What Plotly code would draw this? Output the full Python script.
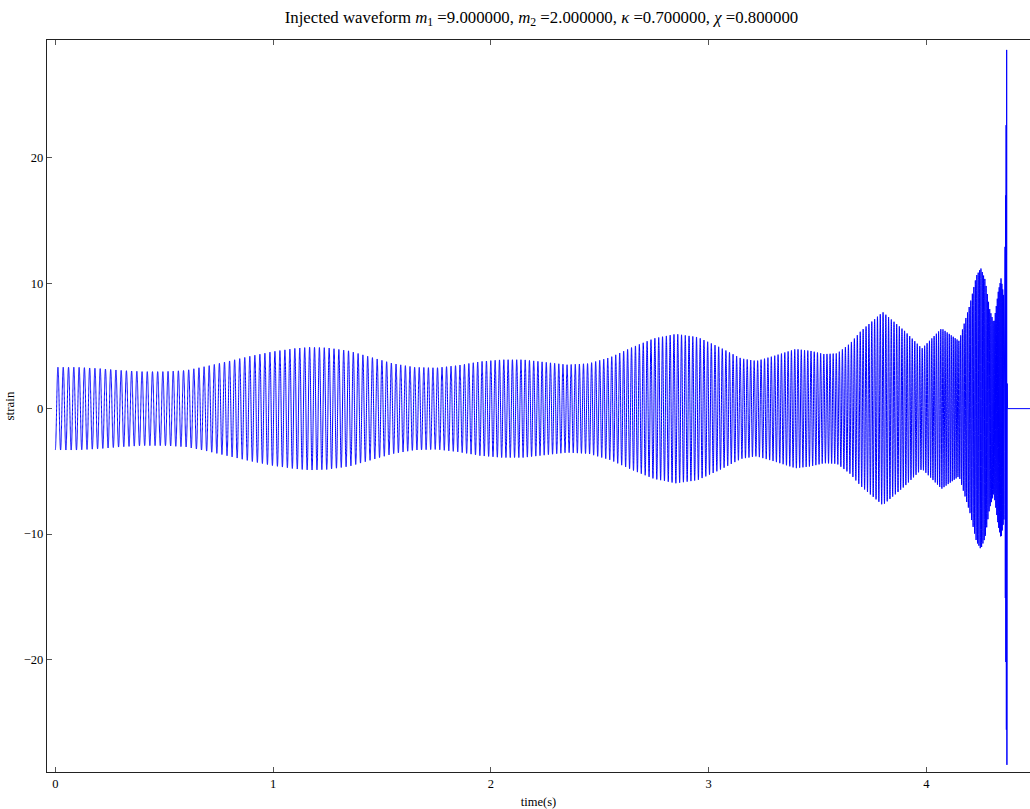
import numpy as np
import plotly.graph_objects as go

# ---- values ----
# envelope of the strain oscillation (amplitude vs time)
env_t = [0.00, 0.10, 0.20, 0.30, 0.40, 0.50, 0.60, 0.70, 0.80, 0.90, 1.00, 1.10, 1.17,
         1.25, 1.35, 1.45, 1.55, 1.65, 1.75, 1.85, 1.95, 2.05, 2.15, 2.25, 2.35, 2.45,
         2.55, 2.65, 2.75, 2.85, 2.95, 3.05, 3.15, 3.22, 3.30, 3.40, 3.47, 3.53, 3.59,
         3.65, 3.70, 3.80, 3.90, 3.98, 4.07, 4.15, 4.20, 4.23, 4.25, 4.27, 4.29, 4.31,
         4.33, 4.343, 4.357]
env_amp = [3.3, 3.3, 3.2, 3.05, 2.95, 2.95, 3.05, 3.4, 3.8, 4.2, 4.55, 4.8, 4.9,
           4.85, 4.6, 4.1, 3.6, 3.3, 3.25, 3.45, 3.75, 3.9, 3.9, 3.7, 3.5, 3.6,
           4.1, 4.9, 5.6, 5.95, 5.7, 4.9, 4.0, 3.8, 4.2, 4.75, 4.6, 4.35, 4.4,
           5.2, 6.2, 7.7, 6.2, 4.8, 6.4, 5.4, 8.3, 10.6, 11.2, 10.3, 8.0, 6.8,
           9.3, 10.4, 8.8]
# oscillation frequency (Hz) vs time
freq_t = [0.00, 0.50, 1.00, 1.50, 2.00, 2.50, 3.00, 3.50, 3.80, 4.00, 4.10, 4.20, 4.30, 4.34, 4.357]
freq_hz = [41.0, 42.0, 43.5, 46.0, 50.0, 54.0, 59.0, 68.0, 78.0, 90.0, 105.0, 135.0, 190.0, 240.0, 280.0]
# final merger extrema (time, strain)
merger_t = [4.3615, 4.3627, 4.3639, 4.3651, 4.3663, 4.3675, 4.3688, 4.3700, 4.3712, 4.3724]
merger_h = [12.9, -15.1, 17.0, -20.2, 22.6, -25.6, 28.6, -28.4, 2.0, 0.0]
# flat (zero) tail after merger
tail_t = [4.3740, 4.60]
tail_h = [0.0, 0.0]

fs = 8192.0
t = np.arange(0.0, env_t[-1], 1.0 / fs)
amp = np.interp(t, env_t, env_amp)
freq = np.interp(t, freq_t, freq_hz)
phase = 2 * np.pi * np.concatenate([[0.0], np.cumsum(freq[:-1]) / fs])
h = -amp * np.cos(phase)

x_all = np.concatenate([t, merger_t, tail_t])
y_all = np.concatenate([h, merger_h, tail_h])

fig = go.Figure()
fig.add_trace(go.Scatter(x=x_all, y=y_all, mode="lines",
                         line=dict(color="#0000ff", width=1, simplify=False),
                         showlegend=False))

serif = "Liberation Serif, Times New Roman, serif"
fig.update_layout(
    width=1030, height=809,
    margin=dict(l=47, r=0, t=40, b=37),
    paper_bgcolor="white", plot_bgcolor="white",
    font=dict(family=serif, size=13, color="black"),
    title=dict(
        text="Injected waveform <i>m</i><sub>1</sub> =9.000000, <i>m</i><sub>2</sub> =2.000000, "
             "<i>κ</i> =0.700000, <i>χ</i> =0.800000",
        x=0.503, xref="paper", xanchor="center",
        y=1 - 17 / 809, yref="container", yanchor="middle",
        font=dict(family=serif, size=16.8, color="black")),
    xaxis=dict(range=[-0.038, 4.476], tickvals=[0, 1, 2, 3, 4], ticks="inside",
               ticklen=5, tickwidth=0.8, tickcolor="#555",
               showline=True, linecolor="#222", linewidth=1.4, mirror="allticks",
               showgrid=False, zeroline=False,
               tickfont=dict(family=serif, size=12.5),
               title=dict(text="time(s)", standoff=8, font=dict(family=serif, size=12.5))),
    yaxis=dict(range=[-28.97, 29.39], tickvals=[-20, -10, 0, 10, 20], ticks="inside",
               ticklen=5, tickwidth=0.8, tickcolor="#555",
               showline=True, linecolor="#222", linewidth=1.4, mirror=False,
               showgrid=False, zeroline=False,
               tickfont=dict(family=serif, size=12.5),
               title=dict(text="strain", standoff=6, font=dict(family=serif, size=13))),
)

fig.write_html("out.html")
